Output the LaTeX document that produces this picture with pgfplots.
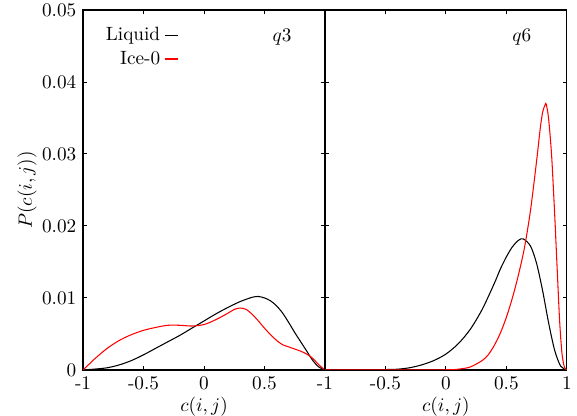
\documentclass[border=0pt]{standalone}
\usepackage{pgfplots}
\pgfplotsset{compat=1.18}
\begin{document}
\begin{tikzpicture}
\pgfplotsset{
  common/.style={
    scale only axis, width=125.8pt, height=187.2pt,
    xmin=-1, xmax=1, ymin=0, ymax=0.05,
    tick align=inside, major tick length=2.2pt,
    axis line style={line width=0.7pt},
    every tick/.style={line width=0.5pt, black},
    ytick={0,0.01,0.02,0.03,0.04,0.05},
    yticklabel style={/pgf/number format/fixed, /pgf/number format/precision=2},
    scaled y ticks=false,
    xlabel={$c(i,j)$},
    xlabel style={yshift=3pt},
    every axis plot/.append style={line width=0.55pt},
  }
}
\begin{axis}[common,
  at={(0,0)}, anchor=south west,
  xtick={-1,-0.5,0,0.5},
  xticklabels={-1,-0.5,0,0.5},
  ylabel={$P(c(i,j))$},
  ylabel style={yshift=-4pt},
  legend plot pos=right,
  legend cell align=right,
  legend style={draw=none, fill=none, at={(axis cs:-0.205,0.0482)}, anchor=north east,
    inner sep=0pt, row sep=0pt, font=\normalsize,
    /tikz/every even column/.append style={column sep=1pt}},
]
\addplot[black, smooth,
  legend image code/.code={\draw[black, line width=0.7pt] (0pt,0pt) -- (7pt,0pt);}] coordinates {
(-1,0) (-0.9,0.00012) (-0.8,0.0003) (-0.7,0.0007) (-0.6,0.0013) (-0.5,0.0021)
(-0.4,0.0030) (-0.3,0.0039) (-0.2,0.0048) (-0.1,0.0058) (0,0.0068) (0.1,0.0078)
(0.2,0.0087) (0.3,0.0095) (0.4,0.0101) (0.45,0.0102) (0.5,0.0100) (0.55,0.0096)
(0.6,0.0089) (0.65,0.0079) (0.7,0.0066) (0.75,0.0052) (0.8,0.0039) (0.85,0.0026)
(0.9,0.0013) (0.95,0.0004) (1,0)};
\addlegendentry{Liquid}
\addplot[red, smooth,
  legend image code/.code={\draw[red, line width=0.7pt] (0pt,0pt) -- (7pt,0pt);}] coordinates {
(-1,0) (-0.95,0.0008) (-0.9,0.0016) (-0.8,0.0030) (-0.7,0.0041) (-0.6,0.0049)
(-0.5,0.0055) (-0.4,0.0059) (-0.3,0.0062) (-0.2,0.0062) (-0.1,0.0061) (0,0.0063)
(0.1,0.0070) (0.2,0.0079) (0.25,0.0084) (0.3,0.0086) (0.35,0.0084) (0.4,0.0077)
(0.45,0.0068) (0.5,0.0058) (0.55,0.0049) (0.6,0.0041) (0.65,0.0035) (0.7,0.0032)
(0.75,0.0029) (0.8,0.0026) (0.85,0.0022) (0.9,0.0016) (0.95,0.0007) (1,0)};
\addlegendentry{Ice-0}
\node[anchor=center] at (axis cs:0.645,0.04625) {$q3$};
\end{axis}
\begin{axis}[common,
  at={(125.8pt,0)}, anchor=south west,
  xtick={-1,-0.5,0,0.5,1},
  xticklabels={-1,-0.5,0,0.5,1},
  yticklabels={},
]
\addplot[black, smooth] coordinates {
(-1,0) (-0.7,0.00001) (-0.6,0.00002) (-0.5,0.00005) (-0.4,0.0001) (-0.3,0.0003)
(-0.2,0.0007) (-0.1,0.0013) (0,0.0022) (0.1,0.0036) (0.2,0.0056) (0.3,0.0084)
(0.4,0.0120) (0.45,0.0140) (0.5,0.0157) (0.55,0.0171) (0.6,0.0180) (0.64,0.0182)
(0.7,0.0172) (0.75,0.0148) (0.8,0.0110) (0.85,0.0065) (0.9,0.0027) (0.95,0.0005) (1,0)};
\addplot[red, smooth] coordinates {
(-1,0) (-0.5,0) (0,0.00002) (0.1,0.0001) (0.2,0.0004) (0.3,0.0013) (0.35,0.0021)
(0.4,0.0034) (0.45,0.0051) (0.5,0.0073) (0.55,0.0100) (0.6,0.0132) (0.65,0.0170)
(0.7,0.0222) (0.75,0.0290) (0.78,0.0335) (0.8,0.0358) (0.82,0.0368) (0.83,0.0369)
(0.85,0.0348) (0.875,0.0296) (0.9,0.0215) (0.915,0.0160) (0.94,0.0070) (0.96,0.0023)
(0.98,0.0004) (1,0)};
\node[anchor=center] at (axis cs:0.627,0.04625) {$q6$};
\end{axis}
\pgfresetboundingbox
\path[use as bounding box] (-43.2pt,-23.9pt) rectangle (256.9pt,192.4pt);
\end{tikzpicture}
\end{document}
